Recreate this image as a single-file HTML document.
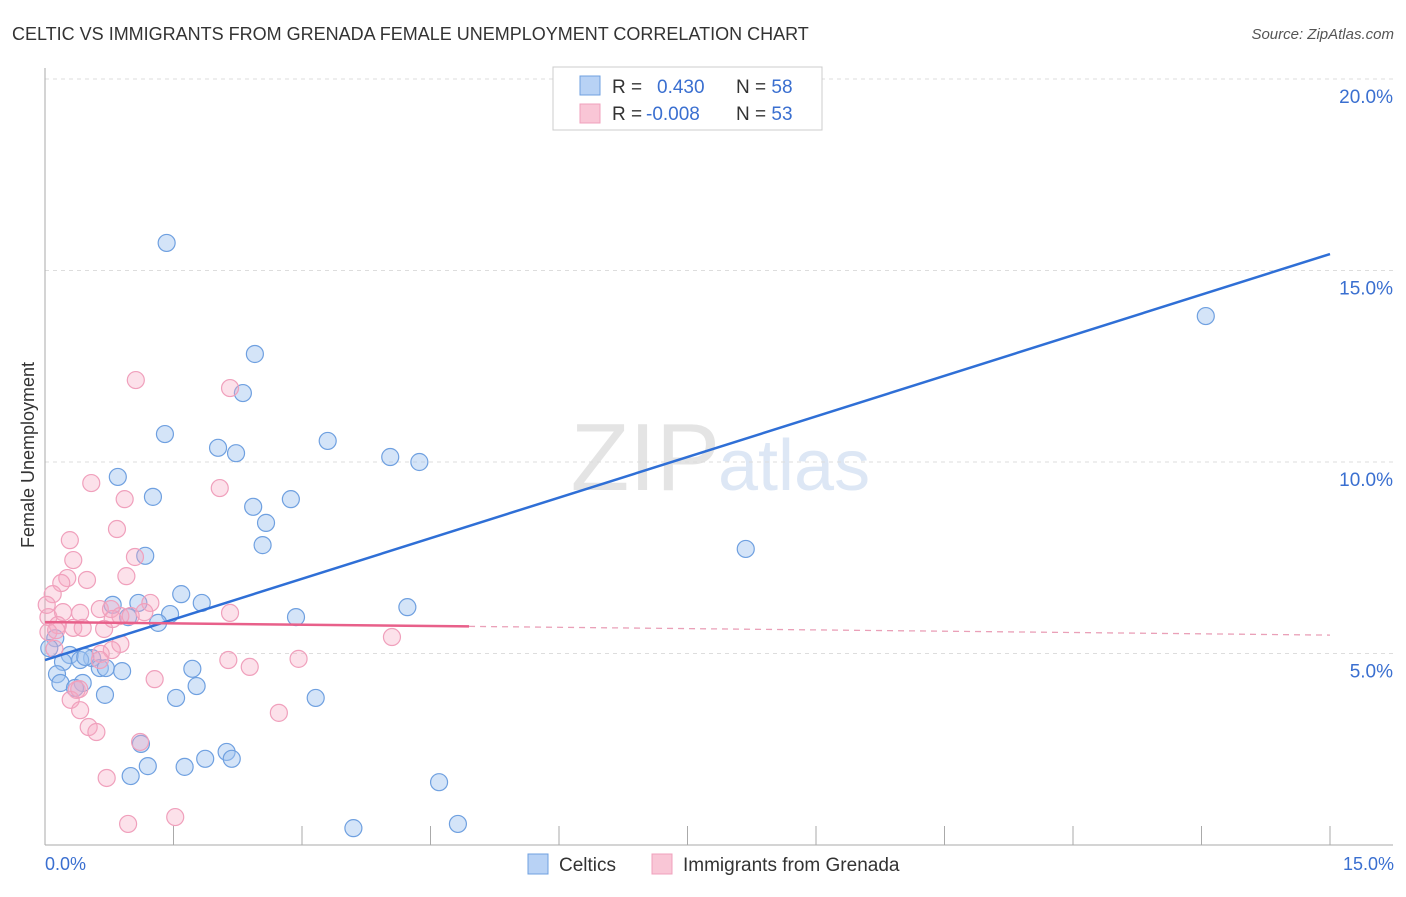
<!DOCTYPE html>
<html><head><meta charset="utf-8"><style>
body{margin:0;background:#fff;font-family:"Liberation Sans",sans-serif}
svg text{font-family:"Liberation Sans",sans-serif}
</style></head><body>
<svg id="c" width="1406" height="892">
<text x="12" y="40" font-size="18" fill="#333">CELTIC VS IMMIGRANTS FROM GRENADA FEMALE UNEMPLOYMENT CORRELATION CHART</text>
<text x="1394" y="39" font-size="15" fill="#555" text-anchor="end" font-style="italic">Source: ZipAtlas.com</text>
<text x="720" y="490" font-size="96" fill="#e4e4e4" text-anchor="end" font-family="Liberation Serif">ZIP</text>
<text x="718" y="490" font-size="72" fill="#dde7f5">atlas</text>
<g id="grid"></g>
<g id="axes"></g>
<g id="pts"></g>
<g id="lines"></g>
<text transform="translate(34,455) rotate(-90)" font-size="18" fill="#333" text-anchor="middle">Female Unemployment</text>
<text x="45" y="870" font-size="18" fill="#3a6fd0">0.0%</text>
<text x="1394" y="870" font-size="18" fill="#3a6fd0" text-anchor="end">15.0%</text>
<g>
<rect x="553" y="67" width="269" height="63" fill="#fff" stroke="#ccc"/>
<rect x="580" y="76" width="20" height="19" fill="#b8d2f5" stroke="#6fa0e0"/>
<rect x="580" y="104" width="20" height="19" fill="#f9c6d6" stroke="#f0a0bc"/>
<text x="612" y="93" font-size="19" fill="#333">R = <tspan fill="#3a6fd0" x="657">0.430</tspan><tspan x="736" fill="#333">N = </tspan><tspan fill="#3a6fd0">58</tspan></text>
<text x="612" y="120" font-size="19" fill="#333">R = <tspan fill="#3a6fd0" x="646">-0.008</tspan><tspan x="736" fill="#333">N = </tspan><tspan fill="#3a6fd0">53</tspan></text>
</g>
<g>
<rect x="528" y="854" width="20" height="20" fill="#b8d2f5" stroke="#6fa0e0"/>
<text x="559" y="871" font-size="19" fill="#333">Celtics</text>
<rect x="652" y="854" width="20" height="20" fill="#f9c6d6" stroke="#f0a0bc"/>
<text x="683" y="871" font-size="19" fill="#333">Immigrants from Grenada</text>
</g>
</svg>
<script>
const yTicks=[5,10,15,20];
const yTickLabels=["5.0%","10.0%","15.0%","20.0%"];
const xTicks=[0,1.5,3,4.5,6,7.5,9,10.5,12,13.5,15];
const blueX=[1.42,2.45,2.31,1.40,2.02,2.23,3.30,4.03,4.37,0.85,1.26,2.87,2.43,2.58,2.54,1.17,8.18,13.55,1.59,1.83,0.79,1.09,4.23,1.46,0.97,1.32,2.93,0.12,0.29,0.55,0.41,0.21,0.64,0.71,0.90,1.72,0.14,0.18,0.44,0.35,1.77,0.70,1.53,3.16,1.12,2.12,1.87,2.18,1.20,1.63,1.00,4.60,3.60,4.82,0.05,0.47];
const blueY=[15.72,12.82,11.80,10.73,10.37,10.23,10.55,10.13,10.00,9.61,9.09,9.03,8.83,8.41,7.83,7.55,7.73,13.81,6.55,6.32,6.27,6.32,6.21,6.03,5.95,5.80,5.95,5.40,4.96,4.88,4.83,4.78,4.62,4.62,4.54,4.60,4.46,4.23,4.23,4.10,4.15,3.92,3.84,3.84,2.64,2.43,2.25,2.25,2.06,2.04,1.80,1.64,0.44,0.55,5.14,4.91];
const pinkX=[1.06,2.16,0.54,0.93,2.04,0.84,0.29,0.33,1.05,0.95,0.26,0.49,0.19,0.09,0.04,0.21,0.41,0.64,0.77,0.88,1.23,1.16,2.16,0.15,0.33,0.44,0.69,0.79,0.04,0.11,0.88,0.78,0.65,2.14,2.39,2.96,4.05,1.28,0.37,0.30,0.41,0.51,0.60,2.73,1.11,0.72,1.52,0.97,0.02,0.13,0.64,1.00,0.40];
const pinkY=[12.14,11.93,9.45,9.03,9.32,8.25,7.96,7.44,7.52,7.02,6.97,6.92,6.84,6.55,5.95,6.08,6.06,6.16,6.16,5.98,6.32,6.08,6.06,5.74,5.67,5.67,5.64,5.90,5.56,5.12,5.25,5.09,4.99,4.83,4.65,4.86,5.43,4.33,4.05,3.79,3.52,3.08,2.95,3.45,2.69,1.75,0.73,0.55,6.27,5.61,4.83,5.98,4.07];
const blueTrend=[4.83,15.43];
const pinkTrend=[5.82,5.48];
const pinkSolidEnd=4.95;
const NS="http://www.w3.org/2000/svg";
const xs=v=>45+v/15*1285, ys=v=>845-v*38.3;
function mk(p,tag,a){const e=document.createElementNS(NS,tag);for(const k in a)e.setAttribute(k,a[k]);p.appendChild(e);return e;}
const grid=document.getElementById('grid'),axes=document.getElementById('axes'),pts=document.getElementById('pts'),lines=document.getElementById('lines');
yTicks.forEach((t,i)=>{
 const l=mk(grid,'line',{x1:45,x2:1393,y1:ys(t),y2:ys(t),stroke:'#ddd','stroke-dasharray':'4,4'});
 
 
 const tx=mk(grid,'text',{x:1393,y:ys(t)+24,'font-size':19,fill:'#3a6fd0','text-anchor':'end'});
 tx.textContent=yTickLabels[i];
 
 
});
const ya=mk(axes,'line',{x1:45,x2:45,y1:68,y2:845,stroke:'#aaa'});


const xa=mk(axes,'line',{x1:45,x2:1393,y1:845,y2:845,stroke:'#aaa'});


xTicks.forEach(t=>{const l=mk(axes,'line',{x1:xs(t),x2:xs(t),y1:826,y2:845,stroke:'#aaa'});
 
 });
blueX.forEach((x,i)=>{const c=mk(pts,'circle',{cx:xs(x),cy:ys(blueY[i]),r:8.5,fill:'rgba(160,196,240,0.45)',stroke:'#6fa0e0','stroke-width':1.2});
 
 });
pinkX.forEach((x,i)=>{const c=mk(pts,'circle',{cx:xs(x),cy:ys(pinkY[i]),r:8.5,fill:'rgba(245,170,195,0.35)',stroke:'#f0a0bc','stroke-width':1.2});
 
 });
const bl=mk(lines,'line',{x1:xs(0),y1:ys(blueTrend[0]),x2:xs(15),y2:ys(blueTrend[1]),stroke:'#2f6fd6','stroke-width':2.5});


const pAt=x=>pinkTrend[0]+(pinkTrend[1]-pinkTrend[0])*x/15;
const pl=mk(lines,'line',{x1:xs(0),y1:ys(pinkTrend[0]),x2:xs(pinkSolidEnd),y2:ys(pAt(pinkSolidEnd)),stroke:'#e8608a','stroke-width':2.5});


const pd=mk(lines,'line',{x1:xs(pinkSolidEnd),y1:ys(pAt(pinkSolidEnd)),x2:xs(15),y2:ys(pinkTrend[1]),stroke:'#eaa0b8','stroke-width':1.3,'stroke-dasharray':'6,5'});


</script>
</body></html>
